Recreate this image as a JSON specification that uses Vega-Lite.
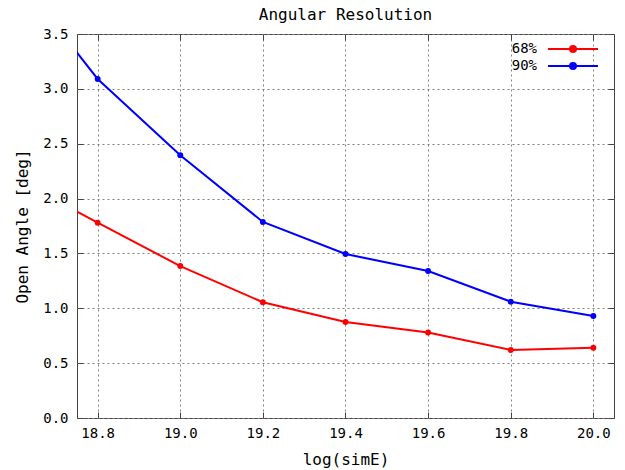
{
  "$schema": "https://vega.github.io/schema/vega-lite/v6.json",
  "width": 537,
  "height": 384,
  "autosize": "none",
  "padding": {"left": 77, "top": 34, "right": 11, "bottom": 52},
  "background": "white",
  "config": {
    "font": "DejaVu Sans Mono",
    "view": {"stroke": "#444444", "strokeWidth": 1},
    "axis": {
      "domain": false,
      "tickColor": "#444444",
      "tickSize": -6,
      "tickWidth": 1,
      "labelFont": "DejaVu Sans Mono",
      "labelFontSize": 14,
      "labelColor": "#000000",
      "titleFont": "DejaVu Sans Mono",
      "titleFontSize": 16,
      "titleFontWeight": "normal",
      "titleColor": "#000000",
      "gridColor": "#808080",
      "gridDash": [2, 3],
      "gridWidth": 1,
      "gridOpacity": 1
    }
  },
  "title": {"text": "Angular Resolution", "font": "DejaVu Sans Mono", "fontSize": 16, "fontWeight": "normal", "offset": 4, "anchor": "middle", "color": "#000000"},
  "data": {
    "values": [
      {"E": 18.6, "v": 2.18, "s": "68%"},
      {"E": 18.8, "v": 1.78, "s": "68%"},
      {"E": 19.0, "v": 1.385, "s": "68%"},
      {"E": 19.2, "v": 1.055, "s": "68%"},
      {"E": 19.4, "v": 0.875, "s": "68%"},
      {"E": 19.6, "v": 0.78, "s": "68%"},
      {"E": 19.8, "v": 0.62, "s": "68%"},
      {"E": 20.0, "v": 0.64, "s": "68%"},
      {"E": 18.6, "v": 4.05, "s": "90%"},
      {"E": 18.8, "v": 3.09, "s": "90%"},
      {"E": 19.0, "v": 2.395, "s": "90%"},
      {"E": 19.2, "v": 1.787, "s": "90%"},
      {"E": 19.4, "v": 1.495, "s": "90%"},
      {"E": 19.6, "v": 1.34, "s": "90%"},
      {"E": 19.8, "v": 1.06, "s": "90%"},
      {"E": 20.0, "v": 0.93, "s": "90%"}
    ]
  },
  "layer": [
    {
      "encoding": {
        "x": {"field": "E", "type": "quantitative",
          "scale": {"domain": [18.75, 20.05], "nice": false, "zero": false},
          "axis": {"title": "log(simE)", "values": [18.8, 19.0, 19.2, 19.4, 19.6, 19.8, 20.0], "format": ".1f", "grid": true, "labelPadding": 14, "titlePadding": 11}},
        "y": {"field": "v", "type": "quantitative",
          "scale": {"domain": [0, 3.5], "nice": false, "zero": true},
          "axis": {"title": "Open Angle [deg]", "values": [0, 0.5, 1, 1.5, 2, 2.5, 3, 3.5], "format": ".1f", "grid": true, "labelPadding": 15, "titlePadding": 12}},
        "color": {"field": "s", "type": "nominal",
          "scale": {"domain": ["68%", "90%"], "range": ["#ff0000", "#0000ff"]},
          "legend": {"orient": "none", "legendX": 489, "legendY": 8, "title": null,
            "symbolType": "M-5,0H5M-0.6,0A0.6,0.6 0 1,0 0.6,0A0.6,0.6 0 1,0 -0.6,0Z",
            "symbolSize": 100, "symbolStrokeWidth": 2, "labelAlign": "right", "labelOffset": -43,
            "rowPadding": 3, "labelFontSize": 14, "labelFont": "DejaVu Sans Mono", "labelColor": "#000000"}}
      },
      "layer": [
        {"mark": {"type": "line", "clip": true, "strokeWidth": 2}},
        {"mark": {"type": "point", "filled": true, "clip": true, "size": 35, "opacity": 1}}
      ]
    },
    {
      "mark": {"type": "point", "opacity": 0, "clip": true},
      "encoding": {
        "x": {"field": "E", "type": "quantitative",
          "scale": {"domain": [18.75, 20.05], "nice": false, "zero": false},
          "axis": {"orient": "top", "title": null, "labels": false, "grid": false, "values": [18.8, 19.0, 19.2, 19.4, 19.6, 19.8, 20.0]}},
        "y": {"field": "v", "type": "quantitative",
          "scale": {"domain": [0, 3.5], "nice": false, "zero": true},
          "axis": {"orient": "right", "title": null, "labels": false, "grid": false, "values": [0, 0.5, 1, 1.5, 2, 2.5, 3, 3.5]}}
      }
    }
  ],
  "resolve": {"scale": {"x": "independent", "y": "independent"}}
}
